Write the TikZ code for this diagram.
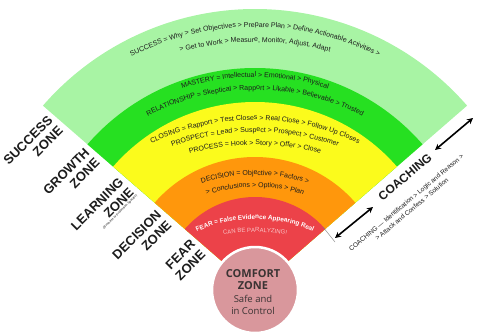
\documentclass[tikz,border=0pt]{standalone}
\usepackage{fontspec}
\setmainfont{Liberation Sans}
\newfontfamily\comfortfont{Open Sans}
\usetikzlibrary{decorations.text,calc,arrows.meta}

\definecolor{successgreen}{HTML}{A8F4A4}
\definecolor{growthgreen}{HTML}{26E021}
\definecolor{learnyellow}{HTML}{FBFB1C}
\definecolor{decisionorange}{HTML}{FF970C}
\definecolor{fearred}{HTML}{EC4249}
\definecolor{comfortpink}{HTML}{D9979C}
\definecolor{inktext}{HTML}{1C1C1C}
\definecolor{paralyzepink}{HTML}{F9C3C6}
\definecolor{comfortink}{HTML}{3A3333}

% filled sector of the fan, outer radius #1 (pt), colour #2
\newcommand\fansector[2]{%
  \fill[#2] (C) -- ($(C)+(41:#1pt)$) arc[start angle=41,end angle=139,radius=#1pt] -- cycle;}
% text on a gentle arc: its top #1 above the fan centre, arc radius #2,
% format #3, text #4
\newcommand\arcline[4]{%
  \path[decorate,decoration={text along path,text align=center,text={|#3|#4}}]
    ($(C)+(0,#1-#2)+(145:#2)$) arc[start angle=145,end angle=35,radius=#2pt];}

\begin{document}
\begin{tikzpicture}[x=1pt,y=1pt,
  zonelabel/.style={font=\fontsize{13}{14.5}\selectfont\bfseries, align=right,
    rotate=45, anchor=east, inner sep=0pt, text=inktext},
  zonenote/.style={font=\fontsize{3.2}{4}\selectfont, rotate=45,
    anchor=north east, inner sep=0pt, text=inktext},
  coachlabel/.style={font=\fontsize{12}{14}\selectfont\bfseries, rotate=40,
    inner sep=0pt, text=inktext},
  coachnote/.style={font=\fontsize{6.5}{8.5}\selectfont, rotate=40, align=center,
    inner sep=0pt, text=inktext},
  coacharrow/.style={{Stealth[length=6pt,width=6pt]}-{Stealth[length=6pt,width=6pt]},
    line width=1.6pt, black},
  comfortdisc/.style={circle, fill=comfortpink, draw=white, line width=2.5pt,
    minimum size=86pt, inner sep=0pt},
  comforttext/.style={align=center, inner sep=0pt, text=comfortink,
    font=\comfortfont\fontsize{9.5}{12}\selectfont}]

\useasboundingbox (0,0) rectangle (481,333);
\coordinate (C) at (255,43);

% the zones, from the outside in
\fansector{281}{successgreen}
\fansector{222}{growthgreen}
\fansector{188}{learnyellow}
\fansector{133}{decisionorange}
\fansector{93}{fearred}

% success zone
\arcline{263}{275}{\color{inktext}\fontsize{7}{8}\selectfont}{SUCCESS = Why > Set Objectives > Prepare Plan > Define Actionable Activities >}
\arcline{248}{290}{\color{inktext}\fontsize{7}{8}\selectfont}{> Get to Work > Measure, Monitor, Adjust, Adapt}
% growth zone
\arcline{213}{234}{\color{inktext}\fontsize{7}{8}\selectfont}{MASTERY = Intellectual > Emotional > Physical}
\arcline{200}{233}{\color{inktext}\fontsize{7}{8}\selectfont}{RELATIONSHIP = Skeptical > Rapport > Likable > Believable > Trusted}
% learning zone
\arcline{170}{240}{\color{inktext}\fontsize{7}{8}\selectfont}{CLOSING = Rapport > Test Closes > Real Close > Follow Up Closes}
\arcline{158}{240}{\color{inktext}\fontsize{7}{8}\selectfont}{PROSPECT = Lead > Suspect > Prospect > Customer}
\arcline{145}{260}{\color{inktext}\fontsize{7}{8}\selectfont}{PROCESS = Hook > Story > Offer > Close}
% decision zone
\arcline{115}{175}{\color{inktext}\fontsize{7}{8}\selectfont}{DECISION = Objective > Factors >}
\arcline{103}{150}{\color{inktext}\fontsize{7}{8}\selectfont}{> Conclusions > Options > Plan}
% fear zone
\arcline{71}{140}{\color{white}\bfseries\fontsize{6.4}{7.5}\selectfont}{FEAR = False Evidence Appearing Real}
\arcline{58}{180}{\color{paralyzepink}\fontsize{6}{7}\selectfont}{CAN BE PARALYZING!}

% comfort zone at the centre
\node[comfortdisc] (comfortzone) at (C) {};
\node[comforttext] (comforttitle) at (253,41)
  {\fontsize{11}{12}\selectfont\bfseries COMFORT\\
   \fontsize{11}{12}\selectfont\bfseries ZONE\\[1.5pt]
   Safe and\\in Control};

% zone names along the left edge
\node[zonelabel] (successlabel) at ($(C)+(139:260pt)+(229:5pt)$) {SUCCESS\\ZONE};
\node[zonelabel] (growthlabel) at ($(C)+(139:211pt)+(229:5pt)$) {GROWTH\\ZONE};
\node[zonelabel] (learninglabel) at ($(C)+(139:166pt)+(229:5pt)$) {LEARNING\\ZONE};
\node[zonenote] (learningnote) at ($(learninglabel.south east)+(-45:1pt)$)
  {(Business or Profession Specific)};
\node[zonelabel] (decisionlabel) at ($(C)+(139:116pt)+(229:5pt)$) {DECISION\\ZONE};
\node[zonelabel] (fearlabel) at ($(C)+(139:71pt)+(229:5pt)$) {FEAR\\ZONE};

% coaching along the right edge
\coordinate (tickA) at (323,106);
\coordinate (tickB) at (335,91);
\draw[gray, line width=0.4pt] (tickA) -- (tickB);
\coordinate (lowA) at (335,95);
\coordinate (lowB) at (373,126);
\coordinate (upA) at (435,183);
\coordinate (upB) at (473,215);
\draw[coacharrow] (lowA) -- (lowB);
\draw[coacharrow] (upA) -- (upB);
\node[coachlabel] (coaching) at (405,156) {COACHING};
\node[coachnote] (coachingsteps) at (409,127)
  {COACHING — Identification > Logic and Reason >\\> Attack and Confess > Solution};
\end{tikzpicture}
\end{document}
